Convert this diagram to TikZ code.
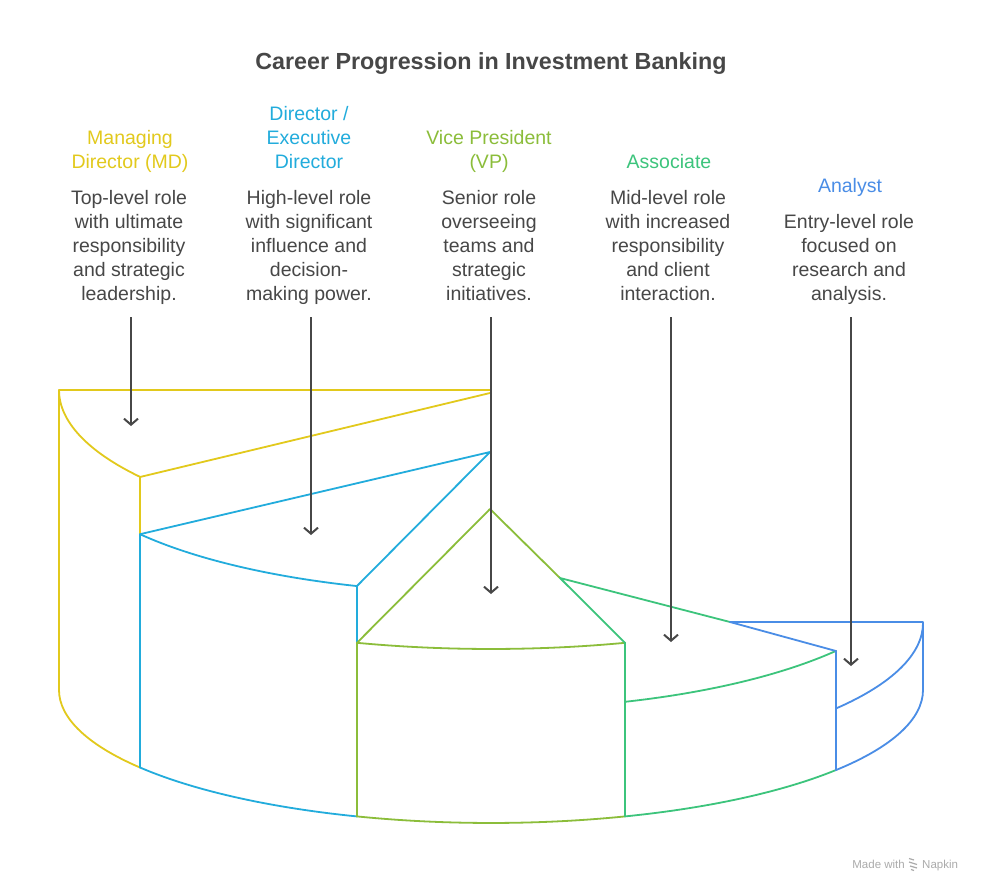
\documentclass[tikz,border=0pt]{standalone}
\usepackage{fontspec}
\setmainfont{Liberation Sans}
\usetikzlibrary{arrows.meta,positioning}
\definecolor{mdyellow}{HTML}{E2C91C}
\definecolor{dirblue}{HTML}{22ACDC}
\definecolor{vpgreen}{HTML}{8BBD3A}
\definecolor{asgreen}{HTML}{3CC47C}
\definecolor{anblue}{HTML}{4A8DE6}
\definecolor{txtgray}{HTML}{474747}
\definecolor{footgray}{HTML}{ABABAB}
\tikzset{
  rolehead/.style={font=\fontsize{19.5}{24}\selectfont, align=center, anchor=north, inner sep=0pt},
  roledesc/.style={rolehead, text=txtgray},
  rim/.style={line width=1.8pt, line join=round, line cap=round},
  pointer/.style={-{Straight Barb[length=6pt,width=14pt]}, line width=2pt, draw=txtgray},
}
\begin{document}
\begin{tikzpicture}[x=1pt, y=-1pt]
  \useasboundingbox[fill=white] (0,0) rectangle (983,892);
  \node[font=\fontsize{23.3}{28}\selectfont\bfseries, text=txtgray] (title) at (491,64) {Career Progression in Investment Banking};

  % headings and descriptions
  \node[rolehead, text=mdyellow] (mdhead) at (130,130) {Managing\\Director (MD)};
  \node[roledesc] (mddesc) at (129,190) {Top-level role\\with ultimate\\responsibility\\and strategic\\leadership.};
  \node[rolehead, text=dirblue] (dirhead) at (309,106) {Director /\\Executive\\Director};
  \node[roledesc] (dirdesc) at (309,190) {High-level role\\with significant\\influence and\\decision-\\making power.};
  \node[rolehead, text=vpgreen] (vphead) at (489,130) {Vice President\\(VP)};
  \node[roledesc] (vpdesc) at (489,190) {Senior role\\overseeing\\teams and\\strategic\\initiatives.};
  \node[rolehead, text=asgreen] (ashead) at (669,154) {Associate};
  \node[roledesc] (asdesc) at (668,190) {Mid-level role\\with increased\\responsibility\\and client\\interaction.};
  \node[rolehead, text=anblue] (anhead) at (850,178) {Analyst};
  \node[roledesc] (andesc) at (849,214) {Entry-level role\\focused on\\research and\\analysis.};

  % managing director
  \draw[rim, mdyellow] (140,535) -- (140,477) -- (490,393);
  \draw[rim, mdyellow] (490,390) -- (59,390) -- (59,690) arc[start angle=180, end angle=144.35, x radius=432, y radius=133];
  \draw[rim, mdyellow] (59,390) arc[start angle=180, end angle=144.35, x radius=432, y radius=149];
  % director
  \draw[rim, dirblue] (140,767.5) -- (140,534.2) -- (490,452) -- (357,586) -- (357,643);
  \draw[rim, dirblue] (140,534.2) arc[start angle=144.35, end angle=108.07, x radius=432, y radius=141];
  \draw[rim, dirblue] (140,767.5) arc[start angle=144.35, end angle=108.07, x radius=432, y radius=133];
  % vice president
  \draw[rim, vpgreen] (357,816.4) -- (357,642.8) -- (490,509) -- (560,578);
  \draw[rim, vpgreen] (357,642.8) arc[start angle=108.07, end angle=71.93, x radius=432, y radius=125];
  \draw[rim, vpgreen] (357,816.4) arc[start angle=108.07, end angle=71.93, x radius=432, y radius=133];
  % associate
  \draw[rim, asgreen] (730,622) -- (560,578) -- (625,642.8) -- (625,816.4) arc[start angle=71.93, end angle=37, x radius=432, y radius=133];
  \draw[rim, asgreen] (625,701.8) arc[start angle=71.93, end angle=37, x radius=432, y radius=146];
  % analyst
  \draw[rim, anblue] (836,651) -- (730,622) -- (923,622) -- (923,690) arc[start angle=0, end angle=37, x radius=432, y radius=133] -- cycle;
  \draw[rim, anblue] (923,623) arc[start angle=0, end angle=37, x radius=432, y radius=142];

  \foreach \r/\x/\y in {md/131/426, dir/311/535, vp/491/594, as/671/642, an/851/666}{
    \coordinate (\r top) at (\x,317);
    \coordinate (\r tip) at (\x,\y);
    \draw[pointer] (\r top) -- (\r tip);
  }

  % footer
  \node[font=\fontsize{11.5}{14}\selectfont, text=footgray, anchor=base east, inner sep=0pt] (made) at (905,868) {Made with};
  \node[font=\fontsize{11.5}{14}\selectfont, text=footgray, inner sep=0pt, base right=17pt of made] (napkin) {Napkin};
  \draw[footgray, line width=1.2pt] (909,858.5) -- (914,860) (909,862) -- (917,864.5) (910,866) -- (917,868) (911,869.5) -- (914,870.5);
\end{tikzpicture}
\end{document}
